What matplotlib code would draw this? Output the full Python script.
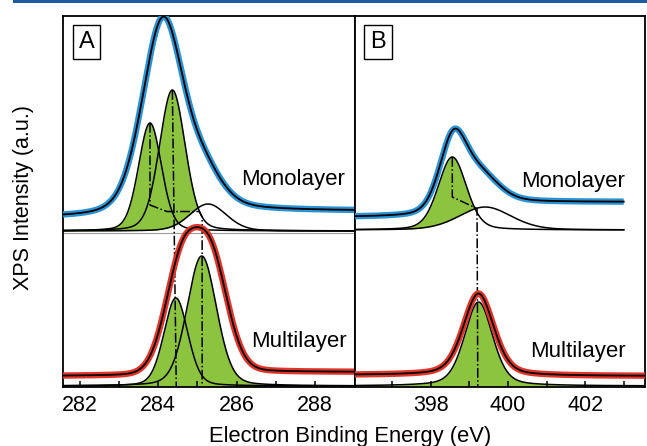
#!/usr/bin/env python3
"""
XPS C 1s / N 1s spectra, monolayer vs multilayer, with peak fit components
"""

import numpy as np
import matplotlib
matplotlib.use('Agg')
import matplotlib.pyplot as plt
from matplotlib.patches import Rectangle


# ---- panel A: C 1s ----
A_XLIM = (281.57, 289.02)
A_TICKS = [282, 283, 284, 285, 286, 287, 288]
A_TICK_LABELS = ['282', '', '284', '', '286', '', '288']

# monolayer fit components (center eV, height, fwhm eV)
A_MONO_BASE = 156
A_MONO_CENTER = [283.79, 284.36, 285.27]
A_MONO_HEIGHT = [108, 141, 27]
A_MONO_FWHM = [0.69, 0.78, 1.1]
A_MONO_FILLED = [True, True, False]
# monolayer measured envelope
A_MONO_ENV_CENTER = [284.12, 285.2]
A_MONO_ENV_HEIGHT = [195, 30]
A_MONO_ENV_FWHM = [1.25, 1.1]
A_MONO_BG = [169, 176]

A_MULTI_BASE = 1
A_MULTI_CENTER = [284.45, 285.11]
A_MULTI_HEIGHT = [88, 130]
A_MULTI_FWHM = [0.72, 0.89]
A_MULTI_FILLED = [True, True]
A_MULTI_ENV_CENTER = [284.6, 285.35]
A_MULTI_ENV_HEIGHT = [109, 109]
A_MULTI_ENV_FWHM = [1.0, 1.0]
A_MULTI_BG = [11, 15]

# ---- panel B: N 1s ----
B_XLIM = (396.04, 403.55)
B_TICKS = [397, 398, 399, 400, 401, 402, 403]
B_TICK_LABELS = ['', '398', '', '400', '', '402', '']

B_MONO_BASE = 157
B_MONO_CENTER = [398.56, 399.41]
B_MONO_HEIGHT = [73, 23]
B_MONO_FWHM = [0.86, 1.6]
B_MONO_FILLED = [True, False]
B_MONO_ENV_CENTER = [398.58, 399.3]
B_MONO_ENV_HEIGHT = [73, 27]
B_MONO_ENV_FWHM = [0.85, 1.1]
B_MONO_BG = [170, 185]
B_MONO_XMAX = 403.0

B_MULTI_BASE = 1
B_MULTI_CENTER = [399.24]
B_MULTI_HEIGHT = [84]
B_MULTI_FWHM = [0.86]
B_MULTI_FILLED = [True]
B_MULTI_ENV_CENTER = [399.24]
B_MULTI_ENV_HEIGHT = [82]
B_MULTI_ENV_FWHM = [0.93]
B_MULTI_BG = [12, 11]

# dash-dot guide lines linking peak positions (eV, intensity)
A_GUIDE_1_X = [283.79, 283.79, 284.22, 285.05, 285.12, 285.12]
A_GUIDE_1_Y = [264, 182, 175.5, 175.5, 170, 1]
A_GUIDE_2_X = [284.36, 284.46]
A_GUIDE_2_Y = [297, 1]
B_GUIDE_X = [398.56, 398.56, 399.2, 399.22]
B_GUIDE_Y = [230, 190, 178.5, 1]

BLUE = '#2a93d5'
RED = '#e3342a'
GREEN = '#8cc43f'
YMAX = 371


def pseudo_voigt(x, center, height, fwhm, eta):
    r2 = ((x - center) / fwhm) ** 2
    return height * ((1 - eta) * np.exp(-4 * np.log(2) * r2) + eta / (1 + 4 * r2))


def draw_components(ax, x, base, centers, heights, fwhms, filled, eta):
    curves = [base + pseudo_voigt(x, c, h, w, eta) for c, h, w in zip(centers, heights, fwhms)]
    # open components sit in front of the green ones, so green starts above them
    floor = np.full_like(x, float(base))
    for y, f in zip(curves, filled):
        if not f:
            floor = np.maximum(floor, y)
    for y, f in zip(curves, filled):
        if f:
            ax.fill_between(x, floor, y, where=y > floor + 0.3, color=GREEN, lw=0, zorder=1)
    for y in curves:
        ax.plot(x, y, color='black', lw=1.1, zorder=2)


def draw_envelope(ax, x, centers, heights, fwhms, bg, eta, color):
    peak = sum(pseudo_voigt(x, c, h, w, eta) for c, h, w in zip(centers, heights, fwhms))
    frac = np.cumsum(peak)
    frac = frac / frac[-1]
    y = bg[0] + (bg[1] - bg[0]) * frac + peak
    ax.plot(x, y, color=color, lw=4.6, solid_capstyle='butt', zorder=3)
    ax.plot(x, y, color='black', lw=1.3, zorder=4)


def style_axes(ax, xlim, ticks, labels):
    ax.set_xlim(*xlim)
    ax.set_ylim(0, YMAX)
    ax.set_yticks([])
    ax.set_xticks(ticks)
    ax.set_xticklabels(labels)
    ax.tick_params(axis='x', direction='in', length=4, width=1.1, pad=5.5, labelsize=15.5)
    for sp in ax.spines.values():
        sp.set_linewidth(1.3)


def main():
    plt.rcParams['font.family'] = ['Liberation Sans', 'DejaVu Sans']
    W, H = 647, 446
    fig = plt.figure(figsize=(W / 100, H / 100), dpi=100)

    def frame(left, right, top=16, bottom=387):
        return [left / W, (H - bottom) / H, (right - left) / W, (bottom - top) / H]

    ax_a = fig.add_axes(frame(63, 355))
    ax_b = fig.add_axes(frame(355, 645))

    # panel A
    xa = np.linspace(A_XLIM[0], A_XLIM[1], 800)
    ax_a.axhline(154, color='#9a9a9a', lw=0.8, zorder=0)
    draw_components(ax_a, xa, A_MONO_BASE, A_MONO_CENTER, A_MONO_HEIGHT, A_MONO_FWHM, A_MONO_FILLED, 0.2)
    draw_components(ax_a, xa, A_MULTI_BASE, A_MULTI_CENTER, A_MULTI_HEIGHT, A_MULTI_FWHM, A_MULTI_FILLED, 0.2)
    draw_envelope(ax_a, xa, A_MONO_ENV_CENTER, A_MONO_ENV_HEIGHT, A_MONO_ENV_FWHM, A_MONO_BG, 0.3, BLUE)
    draw_envelope(ax_a, xa, A_MULTI_ENV_CENTER, A_MULTI_ENV_HEIGHT, A_MULTI_ENV_FWHM, A_MULTI_BG, 0.1, RED)
    ax_a.plot(A_GUIDE_1_X, A_GUIDE_1_Y, color='black', lw=1.1, ls='-.', zorder=2.5)
    ax_a.plot(A_GUIDE_2_X, A_GUIDE_2_Y, color='black', lw=1.1, ls='-.', zorder=2.5)
    ax_a.text(288.76, 202, 'Monolayer', ha='right', va='baseline', fontsize=16)
    ax_a.text(288.80, 40, 'Multilayer', ha='right', va='baseline', fontsize=16)
    style_axes(ax_a, A_XLIM, A_TICKS, A_TICK_LABELS)

    # panel B
    xb_mono = np.linspace(B_XLIM[0], B_MONO_XMAX, 800)
    xb = np.linspace(B_XLIM[0], B_XLIM[1], 800)
    draw_components(ax_b, xb_mono, B_MONO_BASE, B_MONO_CENTER, B_MONO_HEIGHT, B_MONO_FWHM, B_MONO_FILLED, 0.25)
    draw_components(ax_b, xb, B_MULTI_BASE, B_MULTI_CENTER, B_MULTI_HEIGHT, B_MULTI_FWHM, B_MULTI_FILLED, 0.35)
    draw_envelope(ax_b, xb_mono, B_MONO_ENV_CENTER, B_MONO_ENV_HEIGHT, B_MONO_ENV_FWHM, B_MONO_BG, 0.3, BLUE)
    draw_envelope(ax_b, xb, B_MULTI_ENV_CENTER, B_MULTI_ENV_HEIGHT, B_MULTI_ENV_FWHM, B_MULTI_BG, 0.35, RED)
    ax_b.plot(B_GUIDE_X, B_GUIDE_Y, color='black', lw=1.1, ls='-.', zorder=2.5)
    ax_b.text(403.04, 200, 'Monolayer', ha='right', va='baseline', fontsize=16)
    ax_b.text(403.06, 30, 'Multilayer', ha='right', va='baseline', fontsize=16)
    style_axes(ax_b, B_XLIM, B_TICKS, B_TICK_LABELS)

    # boxed panel letters
    box = dict(boxstyle='square,pad=0.25', fc='white', ec='black', lw=1.0)
    ax_a.text(0.080, 0.931, 'A', transform=ax_a.transAxes, ha='center', va='center', fontsize=17, bbox=box)
    ax_b.text(0.079, 0.931, 'B', transform=ax_b.transAxes, ha='center', va='center', fontsize=17, bbox=box)

    fig.text(24 / W, (H - 198) / H, 'XPS Intensity (a.u.)', rotation=90, ha='center', va='center', fontsize=15.5)
    fig.text(350 / W, (H - 441.7) / H, 'Electron Binding Energy (eV)', ha='center', va='baseline', fontsize=15.8)

    # journal header rule
    fig.patches.append(Rectangle((13 / W, (H - 3) / H), 1, 3 / H, transform=fig.transFigure,
                                 color='#1c5aa6', lw=0))

    fig.savefig('out.png', dpi=100)


if __name__ == '__main__':
    main()
